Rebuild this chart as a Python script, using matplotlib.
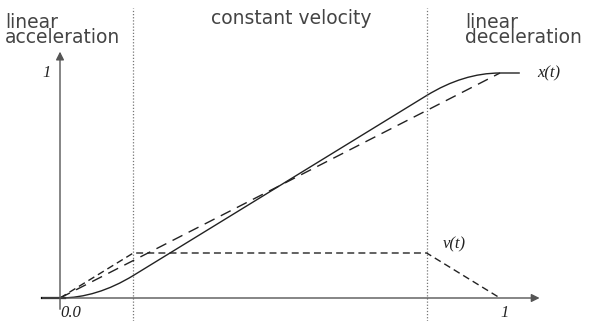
import matplotlib
matplotlib.use('Agg')
import matplotlib.pyplot as plt
from matplotlib.path import Path
from matplotlib.patches import PathPatch

# phase boundaries (normalised time)
t_acc = 1 / 6
t_dec = 5 / 6
t_end = 1.0
t_hold = 1.045

# position x(t): key points, parabolic blends through the control points
x_pts = [(0.0, 0.0), (t_acc / 2, 0.0), (t_acc, 0.1),
         (t_dec, 0.9), (t_dec + t_acc / 2, 1.0), (t_end, 1.0), (t_hold, 1.0)]
x_codes = [Path.MOVETO, Path.CURVE3, Path.CURVE3,
           Path.LINETO, Path.CURVE3, Path.CURVE3, Path.LINETO]

# straight reference line
ref_t = [0.0, t_end]
ref_x = [0.0, 1.0]

# velocity v(t) (scaled)
v_t = [0.0, t_acc, t_dec, t_end]
v_v = [0.0, 0.2, 0.2, 0.0]

fig = plt.figure(figsize=(5.93, 3.21), dpi=100)
ax = fig.add_axes([0, 0, 1, 1])
ax.set_xlim(-60 / 440, 533 / 440)
ax.set_ylim(-23 / 225, 298 / 225)
ax.axis('off')

axis_col = '#555555'

# axes with arrows
ax.annotate('', xy=(1.09, 0), xytext=(-0.04, 0),
            arrowprops=dict(arrowstyle='-|>', color=axis_col, lw=1.0,
                            mutation_scale=12, shrinkA=0, shrinkB=0))
ax.annotate('', xy=(0, 1.095), xytext=(0, -0.05),
            arrowprops=dict(arrowstyle='-|>', color=axis_col, lw=1.0,
                            mutation_scale=12, shrinkA=0, shrinkB=0))
ax.plot([-0.04, 0.012], [0, 0], color='black', lw=1.6)

# phase boundaries
for tb in [t_acc, t_dec]:
    ax.axvline(tb, ymin=0, ymax=0.975, color='#777777', lw=0.9,
               linestyle=(0, (1, 1.5)))

# curves
patch = PathPatch(Path(x_pts, x_codes), fill=False, edgecolor='#222222', lw=1.0)
ax.add_patch(patch)
ax.plot(ref_t, ref_x, color='#222222', lw=1.0, linestyle=(0, (8, 5)))
ax.plot(v_t, v_v, color='#222222', lw=1.0, linestyle=(0, (5, 3)))

# labels
serif = dict(family='Liberation Serif', style='italic', color='#222222', fontsize=12)
ax.text(-0.03, 1.0, '1', ha='center', va='center', **serif)
ax.text(0.0, -0.068, '0.0', ha='left', va='center', **serif)
ax.text(1.01, -0.068, '1', ha='center', va='center', **serif)
ax.text(1.085, 1.0, 'x(t)', ha='left', va='center', **serif)
ax.text(0.87, 0.24, 'v(t)', ha='left', va='center', **serif)

sans = dict(family='DejaVu Sans', color='#444444', fontsize=13.5,
            linespacing=0.75)
ax.text(-0.125, 1.19, 'linear\nacceleration', ha='left', va='center', **sans)
ax.text(0.525, 1.24, 'constant velocity', ha='center', va='center', **sans)
ax.text(0.92, 1.19, 'linear\ndeceleration', ha='left', va='center', **sans)

fig.savefig('out.png', dpi=100, facecolor='white')
